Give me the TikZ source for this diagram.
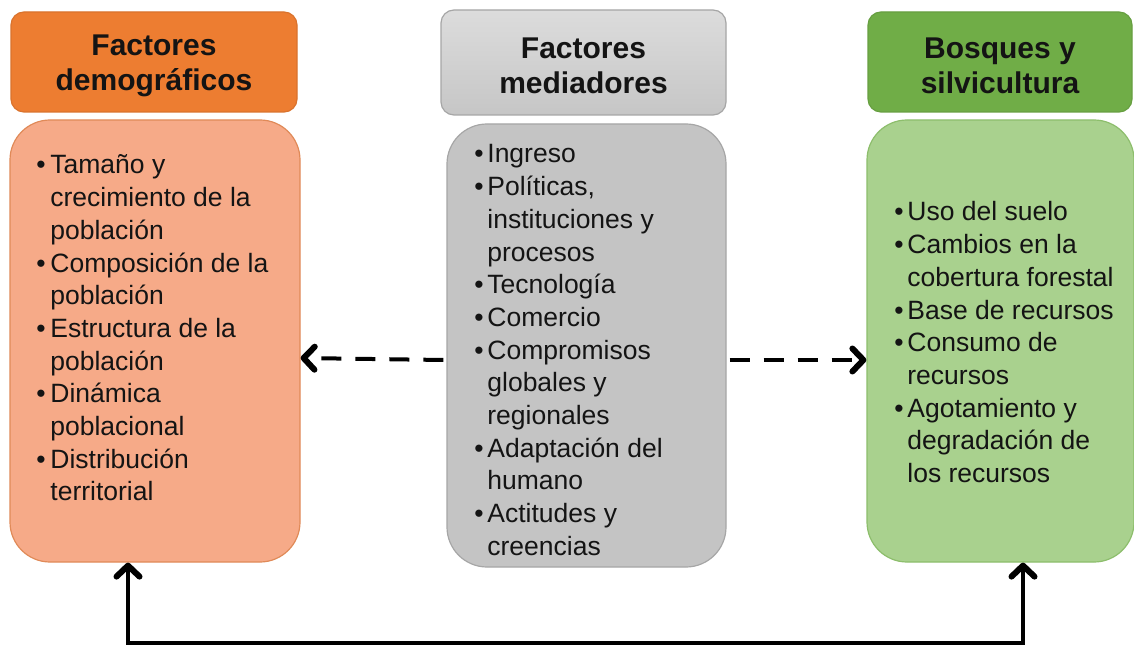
\documentclass[tikz,border=0pt]{standalone}
\usepackage{fontspec}
\setmainfont{Liberation Sans}
\usetikzlibrary{arrows.meta}
\definecolor{ohead}{HTML}{ED7D31}
\definecolor{obody}{HTML}{F6AA88}
\definecolor{oline}{HTML}{E08A58}
\definecolor{ghtop}{HTML}{DCDCDC}
\definecolor{ghbot}{HTML}{C6C6C6}
\definecolor{gbody}{HTML}{C4C4C4}
\definecolor{gline}{HTML}{A6A6A6}
\definecolor{vhead}{HTML}{70AD47}
\definecolor{vbody}{HTML}{A9D18E}
\definecolor{vline}{HTML}{8DBE6C}
\definecolor{txt}{HTML}{141414}
\tikzset{
  hdr/.style={rectangle, rounded corners=6.5pt, draw, line width=0.6pt, inner sep=0pt},
  htxt/.style={align=center, font=\bfseries\fontsize{15}{17.5}\selectfont, text=txt, inner sep=0pt},
  bdy/.style={rectangle, rounded corners=20pt, draw, line width=0.6pt, inner sep=0pt},
  lst/.style={anchor=base west, inner sep=0pt, text=txt, font=\fontsize{13.25}{16.35}\selectfont},
  tipb/.tip={Straight Barb[length=5.5pt,width=11.5pt,line width=3pt, round]},
  dasharrow/.style={line width=2pt, dash pattern=on 10pt off 7pt, -tipb},
  looparrow/.style={line width=2pt, tipb-tipb}
}
\begin{document}
\begin{tikzpicture}[x=0.5pt,y=-0.5pt]
\useasboundingbox (0,0) rectangle (1134,646);
\fill[white] (0,0) rectangle (1134,646);
% headers
\node[hdr, fill=ohead, draw=ohead!92!black, minimum width=143pt, minimum height=50pt] (oh) at (154,62) {};
\node[htxt] (oht) at (154,66) {Factores\\demográficos};
\node[hdr, top color=ghtop, bottom color=ghbot, draw=gline, minimum width=142.5pt, minimum height=52.5pt] (gh) at (583.5,62.5) {};
\node[htxt] (ght) at (583.5,66) {Factores\\mediadores};
\node[hdr, fill=vhead, draw=vhead!92!black, minimum width=132pt, minimum height=50pt] (vh) at (1000,62) {};
\node[htxt] (vht) at (1000,66) {Bosques y\\silvicultura};
% bodies
\node[bdy, fill=obody, draw=oline, minimum width=145pt, minimum height=221pt] (ob) at (155,341) {};
\node[bdy, fill=gbody, draw=gline, minimum width=139.5pt, minimum height=221.5pt] (gb) at (586.5,345.5) {};
\node[bdy, fill=vbody, draw=vline, minimum width=133.5pt, minimum height=221pt] (vb) at (1000.5,341) {};
% lists
\node[lst] (olist) at (36,174) {\begin{tabular}[t]{@{}p{7pt}@{}l@{}}
\textbullet & Tamaño y\\
 & crecimiento de la\\
 & población\\
\textbullet & Composición de la\\
 & población\\
\textbullet & Estructura de la\\
 & población\\
\textbullet & Dinámica\\
 & poblacional\\
\textbullet & Distribución\\
 & territorial
\end{tabular}};
\node[lst] (glist) at (474,163) {\begin{tabular}[t]{@{}p{6.5pt}@{}l@{}}
\textbullet & Ingreso\\
\textbullet & Políticas,\\
 & instituciones y\\
 & procesos\\
\textbullet & Tecnología\\
\textbullet & Comercio\\
\textbullet & Compromisos\\
 & globales y\\
 & regionales\\
\textbullet & Adaptación del\\
 & humano\\
\textbullet & Actitudes y\\
 & creencias
\end{tabular}};
\node[lst] (vlist) at (894,221) {\begin{tabular}[t]{@{}p{6.5pt}@{}l@{}}
\textbullet & Uso del suelo\\
\textbullet & Cambios en la\\
 & cobertura forestal\\
\textbullet & Base de recursos\\
\textbullet & Consumo de\\
 & recursos\\
\textbullet & Agotamiento y\\
 & degradación de\\
 & los recursos
\end{tabular}};
% connectors
\draw[dasharrow] ([yshift=-7.25pt]gb.west) ++(-3,0) -- ([yshift=-8.5pt]ob.east);
\draw[dasharrow] ([yshift=-7.25pt]gb.east) ++(3,0) -- ([yshift=-9.5pt]vb.west);
\coordinate (bl) at (128,643);
\coordinate (br) at (1023,643);
\draw[looparrow, line join=miter] ([xshift=-13.5pt]ob.south) -- (bl) -- (br) -- ([xshift=11.25pt]vb.south);
\end{tikzpicture}
\end{document}
